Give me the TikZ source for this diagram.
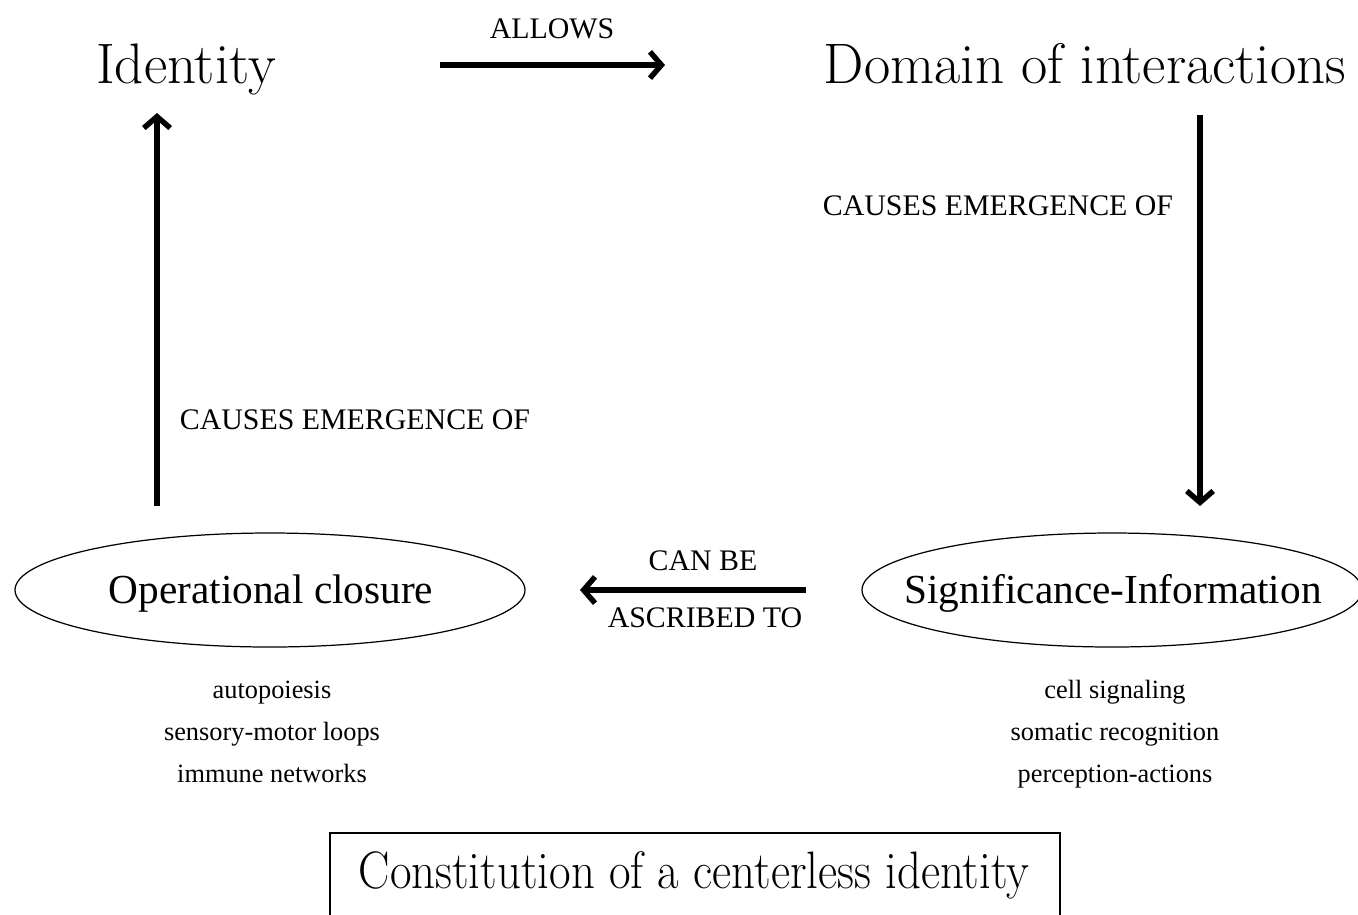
\documentclass[tikz,border=0pt]{standalone}
\usepackage{fontspec}
\newfontfamily\tnr{Liberation Serif}
\usetikzlibrary{arrows.meta,shapes.geometric}
\tikzset{
  conn/.style={line width=3.3pt,-{Straight Barb[length=6.5pt,width=15pt,line width=3.1pt]}},
  title/.style={inner sep=0pt,anchor=base,font=\fontsize{32.5}{38}\selectfont},
  lbl/.style={inner sep=0pt,font=\tnr\fontsize{17}{20}\selectfont},
  oval/.style={ellipse,draw,line width=0.7pt,minimum width=510*0.02cm,minimum height=114*0.02cm,inner sep=0pt},
  ovaltext/.style={inner sep=0pt,anchor=base,font=\tnr\fontsize{23.5}{28}\selectfont},
  item/.style={inner sep=0pt,anchor=base,font=\tnr\fontsize{15}{24}\selectfont},
}
\begin{document}
\begin{tikzpicture}[x=0.02cm,y=-0.02cm]
\useasboundingbox (0,0) rectangle (1358,914);
\clip (0,0) rectangle (1358,914);
% titles
\node[title] (id) at (186,83) {Identity};
\node[title] (dom) at (1085,83) {Domain of interactions};
% ellipses
\node[oval] (oc) at (270,590) {};
\node[ovaltext] (oct) at (271,603) {Operational closure};
\node[oval,minimum width=500*0.02cm] (si) at (1112,590) {};
\node[ovaltext] (sit) at (1113,603) {Significance-Information};
% connector endpoints
\coordinate (a1) at (440,65);
\coordinate (a2) at (665,65);
\coordinate (r1) at (1200,115);
\coordinate (r2) at (1200,506);
\coordinate (h1) at (806,590);
\coordinate (h2) at (580,590);
\coordinate (l1) at (157,506);
\coordinate (l2) at (157,113);
\draw[conn] (a1) -- (a2);
\draw[conn] (r1) -- (r2);
\draw[conn] (h1) -- (h2);
\draw[conn] (l1) -- (l2);
% labels
\node[lbl] (allows) at (552,29) {ALLOWS};
\node[lbl] (cer) at (998,206) {CAUSES EMERGENCE OF};
\node[lbl] (cel) at (355,420) {CAUSES EMERGENCE OF};
\node[lbl] (canbe) at (703,561) {CAN BE};
\node[lbl] (ascr) at (705,618) {ASCRIBED TO};
% item lists
\node[item] (ocl1) at (272,698) {autopoiesis};
\node[item] (ocl2) at (272,740) {sensory-motor loops};
\node[item] (ocl3) at (272,782) {immune networks};
\node[item] (sil1) at (1115,698) {cell signaling};
\node[item] (sil2) at (1115,740) {somatic recognition};
\node[item] (sil3) at (1115,782) {perception-actions};
% bottom box
\draw[line width=1pt] (330,940) -- (330,833) -- (1060,833) -- (1060,940);
\node[inner sep=0pt,anchor=base] (box) at (694,888) {\scalebox{0.89}[1]{\fontsize{30}{36}\selectfont Constitution of a centerless identity}};
\end{tikzpicture}
\end{document}
